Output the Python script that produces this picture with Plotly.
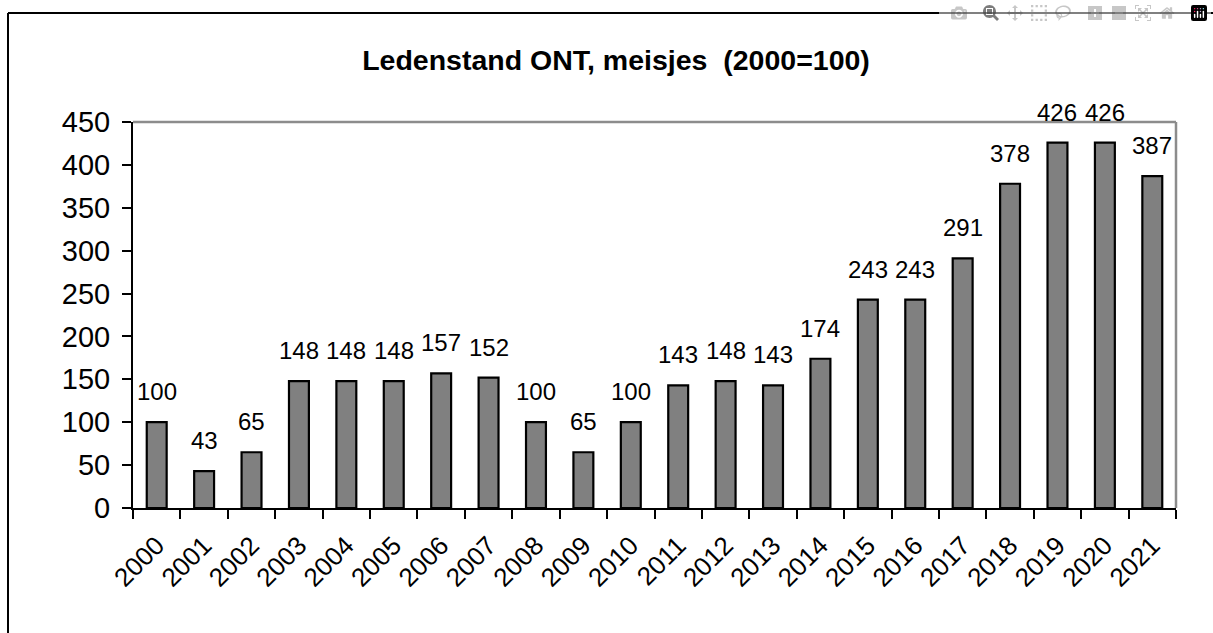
import plotly.graph_objects as go

years = [str(y) for y in range(2000, 2022)]
values = [100, 43, 65, 148, 148, 148, 157, 152, 100, 65, 100,
          143, 148, 143, 174, 243, 243, 291, 378, 426, 426, 387]
title_text = "Ledenstand ONT, meisjes  (2000=100)"

FONT = "Liberation Sans, Arial, sans-serif"

W, H = 1213, 633

fig = go.Figure()
fig.add_trace(go.Bar(
    x=years, y=values,
    width=0.42,
    marker=dict(color="#808080", line=dict(color="black", width=2.2)),
    hoverinfo="x+y",
))

annotations = []
for i, v in enumerate(values):
    annotations.append(dict(
        x=i, y=v, xref="x", yref="y", text=str(v), showarrow=False,
        yanchor="bottom", yshift=15,
        font=dict(family=FONT, size=24, color="black"),
    ))

# plot area in reference pixels
L, R, T, B = 133, 1176, 122, 508
def px2x(px):
    return (px - L) / (R - L)
def py2y(py):
    return (B - py) / (B - T)

shapes = [
    dict(type="line", xref="paper", yref="paper", x0=0, x1=1, y0=1, y1=1,
         line=dict(color="#8c8c8c", width=2.5)),
    dict(type="line", xref="paper", yref="paper", x0=1, x1=1, y0=0, y1=1,
         line=dict(color="#8c8c8c", width=2.5)),
    dict(type="line", xref="paper", yref="paper", x0=px2x(8), x1=px2x(W + 20),
         y0=py2y(13), y1=py2y(13), line=dict(color="black", width=2)),
    dict(type="line", xref="paper", yref="paper", x0=px2x(8), x1=px2x(8),
         y0=py2y(13), y1=py2y(H + 20), line=dict(color="black", width=2)),
]

fig.update_layout(
    width=W, height=H,
    margin=dict(l=L, r=W - R, t=T, b=H - B, pad=0),
    paper_bgcolor="white", plot_bgcolor="white",
    showlegend=False,
    title=dict(text="<b>" + title_text + "</b>", xref="container", yref="container",
               x=616 / W, y=1 - 60 / H, xanchor="center", yanchor="middle",
               font=dict(family=FONT, size=28.5, color="black")),
    annotations=annotations,
    shapes=shapes,
    xaxis=dict(
        type="category", range=[-0.5, len(years) - 0.5],
        tickson="boundaries", ticks="outside", ticklen=9,
        tickwidth=2, tickcolor="black", showline=True, linecolor="black",
        linewidth=2, tickangle=-45, showgrid=False, ticklabelstandoff=10,
        tickfont=dict(family=FONT, size=26, color="black"),
    ),
    yaxis=dict(
        range=[0, 450], dtick=50, tick0=0, ticks="outside", ticklen=9,
        tickwidth=2, tickcolor="black", showline=True, linecolor="black",
        linewidth=2, showgrid=False, zeroline=False, ticklabelstandoff=6,
        tickfont=dict(family=FONT, size=29, color="black"),
    ),
)

# remove the default page margin so the figure sits at the window's top-left
no_margin_js = (
    "document.body.style.margin='0';"
    "document.body.style.overflow='hidden';"
    "document.documentElement.style.overflow='hidden';"
)

fig.write_html("out.html", post_script=no_margin_js)
